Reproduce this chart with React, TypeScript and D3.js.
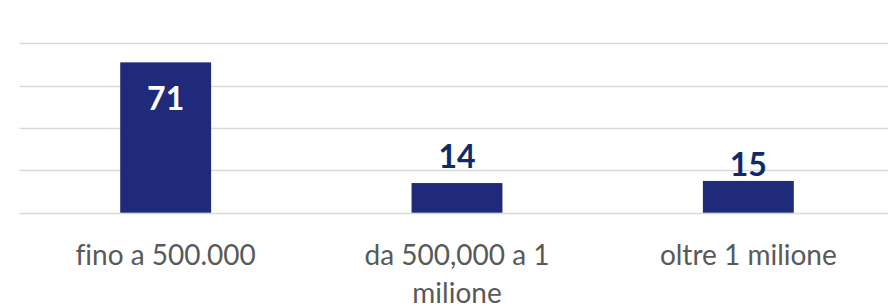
import React from "react";
import * as d3 from "d3";

const categories: string[][] = [["fino a 500.000"], ["da 500,000 a 1", "milione"], ["oltre 1 milione"]];
const values: number[] = [71, 14, 15];
const yTicks: number[] = [0, 20, 40, 60, 80];
// label placement: inside (positive, below top) or above (negative)
const labelOffsets: number[] = [47.6, -15, -5];

const W = 888;
const H = 306;

export default function App() {
  const x = d3
    .scaleBand<number>()
    .domain(values.map((_, i) => i))
    .range([20, 894])
    .paddingInner(0.688)
    .paddingOuter(0.344);
  const y = d3.scaleLinear().domain([0, 80]).range([212.7, 43.3]);
  const font = "Lato, 'Open Sans', sans-serif";

  return (
    <svg
      width={W}
      height={H}
      style={{ position: "absolute", left: 0, top: 0, background: "#fff", fontVariantLigatures: "none" }}
    >
      {yTicks.map((t) => (
        <line
          key={t}
          x1={19.5}
          x2={W}
          y1={Math.round(y(t)) + 0.5}
          y2={Math.round(y(t)) + 0.5}
          stroke="#d9d9d9"
          strokeWidth={1.5}
        />
      ))}
      {values.map((v, i) => (
        <rect
          key={i}
          x={x(i)}
          y={y(v)}
          width={x.bandwidth()}
          height={y(0) - y(v)}
          fill="#1f2a7a"
        />
      ))}
      {values.map((v, i) => (
        <text
          key={"l" + i}
          x={(x(i) as number) + x.bandwidth() / 2}
          y={y(v) + labelOffsets[i]}
          textAnchor="middle"
          fontFamily={font}
          fontWeight={700}
          fontSize={32}
          fill={labelOffsets[i] > 0 ? "#ffffff" : "#0f2a6b"}
        >
          {v}
        </text>
      ))}
      {categories.map((lines, i) => (
        <text
          key={"c" + i}
          x={(x(i) as number) + x.bandwidth() / 2}
          y={264.5}
          textAnchor="middle"
          fontFamily={font}
          fontSize={28}
          fill="#595959"
          style={{ fontVariantLigatures: "none" }}
        >
          {lines.map((ln, j) => (
            <tspan key={j} x={(x(i) as number) + x.bandwidth() / 2} dy={j === 0 ? 0 : 38.5}>
              {ln}
            </tspan>
          ))}
        </text>
      ))}
    </svg>
  );
}
